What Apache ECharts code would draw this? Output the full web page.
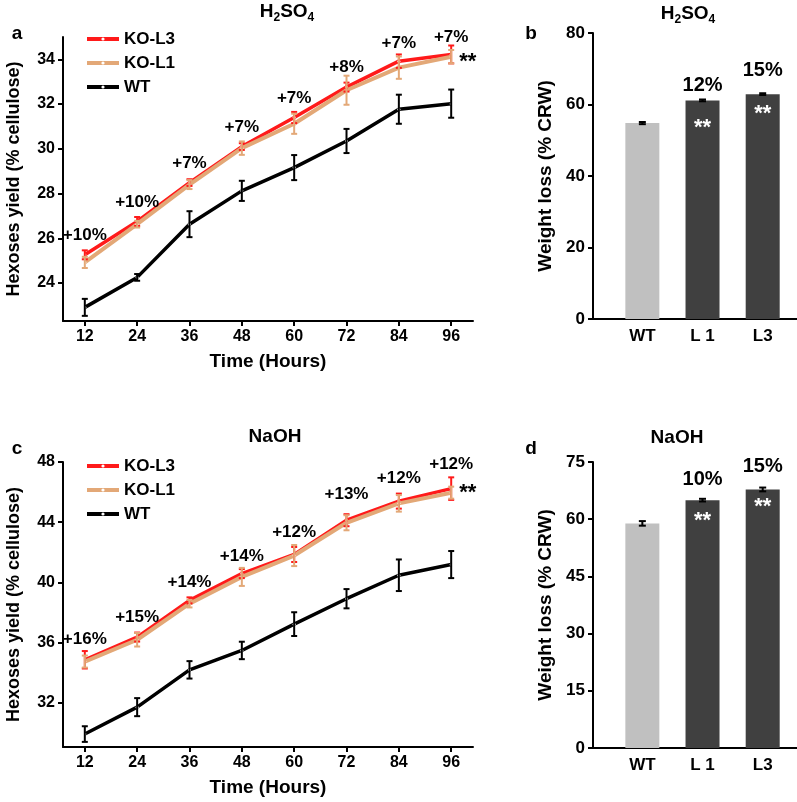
<!DOCTYPE html>
<html><head><meta charset="utf-8">
<script src="https://cdn.jsdelivr.net/npm/echarts@6/dist/echarts.min.js"></script>
<style>html,body{margin:0;padding:0;background:#fff}#c{width:797px;height:802px}</style>
</head><body><div id="c"></div>
<script>
// ---- data ----
const hours = [12, 24, 36, 48, 60, 72, 84, 96];
const yTicksA = [24, 26, 28, 30, 32, 34];
const yTicksC = [32, 36, 40, 44, 48];

const h2so4_L3 = [25.26, 26.75, 28.49, 30.10, 31.40, 32.76, 33.92, 34.22];
const h2so4_L1 = [24.92, 26.63, 28.40, 30.03, 31.12, 32.62, 33.63, 34.12];
const h2so4_WT = [22.91, 24.25, 26.63, 28.12, 29.16, 30.35, 31.77, 32.02];
const h2so4_L3_err = [0.20, 0.20, 0.15, 0.15, 0.25, 0.20, 0.30, 0.40];
const h2so4_L1_err = [0.25, 0.15, 0.20, 0.30, 0.45, 0.65, 0.50, 0.30];
const h2so4_WT_err = [0.38, 0.15, 0.58, 0.45, 0.56, 0.54, 0.65, 0.63];
const h2so4_gain = ['+10%', '+10%', '+7%', '+7%', '+7%', '+8%', '+7%', '+7%'];

const naoh_L3 = [34.85, 36.36, 38.80, 40.58, 41.85, 44.13, 45.40, 46.23];
const naoh_L1 = [34.73, 36.18, 38.58, 40.36, 41.78, 43.96, 45.25, 45.96];
const naoh_WT = [29.91, 31.70, 34.18, 35.47, 37.22, 38.91, 40.47, 41.18];
const naoh_L3_err = [0.58, 0.30, 0.20, 0.30, 0.50, 0.40, 0.50, 0.75];
const naoh_L1_err = [0.40, 0.45, 0.25, 0.60, 0.70, 0.50, 0.55, 0.40];
const naoh_WT_err = [0.52, 0.60, 0.58, 0.58, 0.79, 0.64, 1.05, 0.90];
const naoh_gain = ['+16%', '+15%', '+14%', '+14%', '+12%', '+13%', '+12%', '+12%'];

const lines = ['WT', 'L 1', 'L3'];
const h2so4_loss = [54.8, 61.15, 62.9];
const h2so4_loss_err = [0.3, 0.25, 0.25];
const h2so4_loss_gain = ['', '12%', '15%'];
const naoh_loss = [58.9, 65.0, 67.8];
const naoh_loss_err = [0.6, 0.35, 0.5];
const naoh_loss_gain = ['', '10%', '15%'];
const signif = ['', '**', '**'];

// ---- styles ----
const FONT = 'Liberation Sans, Arial, sans-serif';
const RED = '#ff1a1a', TAN = '#e3a877', BLACK = '#000000';
const BAR_LIGHT = '#c0c0c0', BAR_DARK = '#404040';
const gainLift = { a: [11, 11, 11, 11, 11, 11, 9, 9], c: [12, 11, 10, 9, 14, 17, 14, 16] };
const barGainLift = { b: [0, 5, 14], d: [0, 11, 13] };
const starDrop = { b: [0, 17, 9], d: [0, 10, 6] };

const chart = echarts.init(document.getElementById('c'), null, { renderer: 'canvas' });

function errSeries(xi, yi, xs, vals, errs, color, capW, lw, z) {
  return {
    type: 'custom', xAxisIndex: xi, yAxisIndex: yi, z: z, silent: true,
    data: xs.map((x, i) => [x, vals[i], errs[i]]),
    encode: { x: 0, y: 1 },
    renderItem: function (params, api) {
      const x = api.value(0), y = api.value(1), e = api.value(2);
      const t = api.coord([x, y + e]), b = api.coord([x, y - e]);
      const hw = capW / 2, st = { stroke: color, lineWidth: lw };
      return { type: 'group', children: [
        { type: 'line', shape: { x1: t[0], y1: t[1], x2: b[0], y2: b[1] }, style: st },
        { type: 'line', shape: { x1: t[0] - hw, y1: t[1], x2: t[0] + hw, y2: t[1] }, style: st },
        { type: 'line', shape: { x1: b[0] - hw, y1: b[1], x2: b[0] + hw, y2: b[1] }, style: st }
      ] };
    }
  };
}

function lineSeries(name, xi, yi, vals, color, width, z) {
  return {
    type: 'line', name: name, xAxisIndex: xi, yAxisIndex: yi, z: z,
    data: hours.map((h, i) => [h, vals[i]]),
    symbol: 'circle', symbolSize: 3, showSymbol: true,
    itemStyle: { color: '#ffffff', borderWidth: 0 },
    lineStyle: { color: color, width: width },
    color: color, animation: false
  };
}

const blackLabel = { color: '#000000', opacity: 1, fontFamily: FONT, fontWeight: 'bold', textBorderWidth: 0 };

function gainSeries(xi, yi, vals, gains, lifts, starOffset) {
  return {
    type: 'scatter', xAxisIndex: xi, yAxisIndex: yi, symbolSize: 0, silent: true, z: 10,
    itemStyle: { opacity: 1, color: '#000' },
    data: hours.map((h, i) => ({ value: [h, vals[i]],
      label: { show: true, position: 'top', distance: lifts[i], formatter: gains[i] } }))
      .concat([{ value: [hours[hours.length - 1], vals[vals.length - 1]],
        label: { show: true, position: 'right', distance: 8, offset: [0, starOffset], formatter: '**', fontSize: 22 } }]),
    label: Object.assign({ fontSize: 17 }, blackLabel)
  };
}

function barSeries(xi, yi, vals, stars, drops) {
  return {
    type: 'bar', xAxisIndex: xi, yAxisIndex: yi, barWidth: 34, z: 2,
    data: vals.map((v, i) => ({ value: [i + 1, v],
      itemStyle: { color: i === 0 ? BAR_LIGHT : BAR_DARK },
      label: { show: stars[i] !== '', position: 'insideTop', distance: drops[i], formatter: stars[i] } })),
    label: { color: '#ffffff', opacity: 1, fontFamily: FONT, fontWeight: 'bold', fontSize: 22 },
    animation: false
  };
}

function barGain(xi, yi, vals, gains, lifts) {
  return {
    type: 'scatter', xAxisIndex: xi, yAxisIndex: yi, symbolSize: 0, silent: true, z: 10,
    itemStyle: { opacity: 1, color: '#000' },
    data: vals.map((v, i) => ({ value: [i + 1, v],
      label: { show: gains[i] !== '', position: 'top', distance: lifts[i], formatter: gains[i] } })),
    label: Object.assign({ fontSize: 20 }, blackLabel)
  };
}

const axisLineStyle = { show: true, lineStyle: { color: '#000', width: 2 } };
const tickStyle = { show: true, length: 5, lineStyle: { color: '#000', width: 2 } };

function timeAxis(gi) {
  return {
    type: 'value', gridIndex: gi, min: 7, max: 101,
    axisLine: axisLineStyle, splitLine: { show: false },
    axisTick: Object.assign({ customValues: hours }, tickStyle),
    axisLabel: { customValues: hours, color: '#000', fontFamily: FONT, fontWeight: 'bold', fontSize: 16, margin: 8 },
    name: 'Time (Hours)', nameLocation: 'middle', nameGap: 31,
    nameTextStyle: { color: '#000', fontFamily: FONT, fontWeight: 'bold', fontSize: 19 }
  };
}
function yieldAxis(gi, min, max, ticks) {
  return {
    type: 'value', gridIndex: gi, min: min, max: max,
    axisLine: axisLineStyle, splitLine: { show: false },
    axisTick: Object.assign({ customValues: ticks }, tickStyle),
    axisLabel: { customValues: ticks, color: '#000', fontFamily: FONT, fontWeight: 'bold', fontSize: 16, margin: 8 },
    name: 'Hexoses yield (% cellulose)', nameLocation: 'middle', nameGap: 40,
    nameTextStyle: { color: '#000', fontFamily: FONT, fontWeight: 'bold', fontSize: 18 }
  };
}
function lineAxis(gi) {
  return {
    type: 'value', gridIndex: gi, min: 0.18, max: 3.57,
    axisLine: axisLineStyle, splitLine: { show: false }, axisTick: { show: false },
    axisLabel: { customValues: [1, 2, 3], formatter: v => lines[Math.round(v) - 1],
      color: '#000', fontFamily: FONT, fontWeight: 'bold', fontSize: 17, margin: 9 }
  };
}
function lossAxis(gi, max, interval) {
  return {
    type: 'value', gridIndex: gi, min: 0, max: max, interval: interval,
    axisLine: axisLineStyle, splitLine: { show: false }, axisTick: tickStyle,
    axisLabel: { color: '#000', fontFamily: FONT, fontWeight: 'bold', fontSize: 17, margin: 8 },
    name: 'Weight loss (% CRW)', nameLocation: 'middle', nameGap: 38,
    nameTextStyle: { color: '#000', fontFamily: FONT, fontWeight: 'bold', fontSize: 19 }
  };
}

const titleStyle = { color: '#000', fontFamily: FONT, fontWeight: 'bold', fontSize: 19 };
const h2so4Rich = {
  b: { fontFamily: FONT, fontWeight: 'bold', fontSize: 19, color: '#000', lineHeight: 20, verticalAlign: 'top' },
  s: { fontFamily: FONT, fontWeight: 'bold', fontSize: 12, color: '#000', lineHeight: 12, padding: [10, 0, 0, 0], verticalAlign: 'top' }
};
function title(text, left, top, rich) {
  return { text: text, left: left, top: top, textAlign: 'center', padding: 0,
    textStyle: Object.assign({}, titleStyle, rich ? { rich: rich } : {}) };
}
function legend(top) {
  return {
    left: 85, top: top, orient: 'vertical', padding: 0, itemWidth: 32, itemHeight: 4, itemGap: 7,
    data: ['KO-L3', 'KO-L1', 'WT'], selectedMode: false,
    textStyle: { color: '#000', fontFamily: FONT, fontWeight: 'bold', fontSize: 17 },
    lineStyle: { width: 4 }
  };
}

const option = {
  backgroundColor: '#fff',
  animation: false,
  title: [
    title('{b|H}{s|2}{b|SO}{s|4}', 287, 2, h2so4Rich),
    title('{b|H}{s|2}{b|SO}{s|4}', 688, 4, h2so4Rich),
    title('NaOH', 275, 427),
    title('NaOH', 677, 428),
    title('a', 17, 24), title('b', 531, 24), title('c', 17, 439), title('d', 531, 439)
  ],
  legend: [legend(30.5), legend(457.5)],
  grid: [
    { left: 63, top: 37, width: 410, height: 284, outerBoundsMode: 'none', containLabel: false },
    { left: 593, top: 33, width: 204, height: 286, outerBoundsMode: 'none', containLabel: false },
    { left: 63, top: 462, width: 410, height: 285, outerBoundsMode: 'none', containLabel: false },
    { left: 593, top: 462, width: 204, height: 286, outerBoundsMode: 'none', containLabel: false }
  ],
  xAxis: [timeAxis(0), lineAxis(1), timeAxis(2), lineAxis(3)],
  yAxis: [yieldAxis(0, 22.3, 35, yTicksA), lossAxis(1, 80, 20), yieldAxis(2, 29.05, 48, yTicksC), lossAxis(3, 75, 15)],
  series: [
    lineSeries('KO-L3', 0, 0, h2so4_L3, RED, 3.5, 2),
    lineSeries('KO-L1', 0, 0, h2so4_L1, TAN, 4, 3),
    lineSeries('WT', 0, 0, h2so4_WT, BLACK, 3.5, 3),
    errSeries(0, 0, hours, h2so4_L3, h2so4_L3_err, RED, 6, 2, 4),
    errSeries(0, 0, hours, h2so4_L1, h2so4_L1_err, TAN, 6, 2, 4),
    errSeries(0, 0, hours, h2so4_WT, h2so4_WT_err, BLACK, 6, 2, 4),
    gainSeries(0, 0, h2so4_L3, h2so4_gain, gainLift.a, 7),

    lineSeries('KO-L3', 2, 2, naoh_L3, RED, 3.5, 2),
    lineSeries('KO-L1', 2, 2, naoh_L1, TAN, 4, 3),
    lineSeries('WT', 2, 2, naoh_WT, BLACK, 3.5, 3),
    errSeries(2, 2, hours, naoh_L3, naoh_L3_err, RED, 6, 2, 4),
    errSeries(2, 2, hours, naoh_L1, naoh_L1_err, TAN, 6, 2, 4),
    errSeries(2, 2, hours, naoh_WT, naoh_WT_err, BLACK, 6, 2, 4),
    gainSeries(2, 2, naoh_L3, naoh_gain, gainLift.c, 4),

    barSeries(1, 1, h2so4_loss, signif, starDrop.b),
    errSeries(1, 1, [1, 2, 3], h2so4_loss, h2so4_loss_err, BLACK, 7, 2, 5),
    barGain(1, 1, h2so4_loss, h2so4_loss_gain, barGainLift.b),

    barSeries(3, 3, naoh_loss, signif, starDrop.d),
    errSeries(3, 3, [1, 2, 3], naoh_loss, naoh_loss_err, BLACK, 7, 2, 5),
    barGain(3, 3, naoh_loss, naoh_loss_gain, barGainLift.d)
  ]
};
chart.setOption(option);
</script>
</body></html>
